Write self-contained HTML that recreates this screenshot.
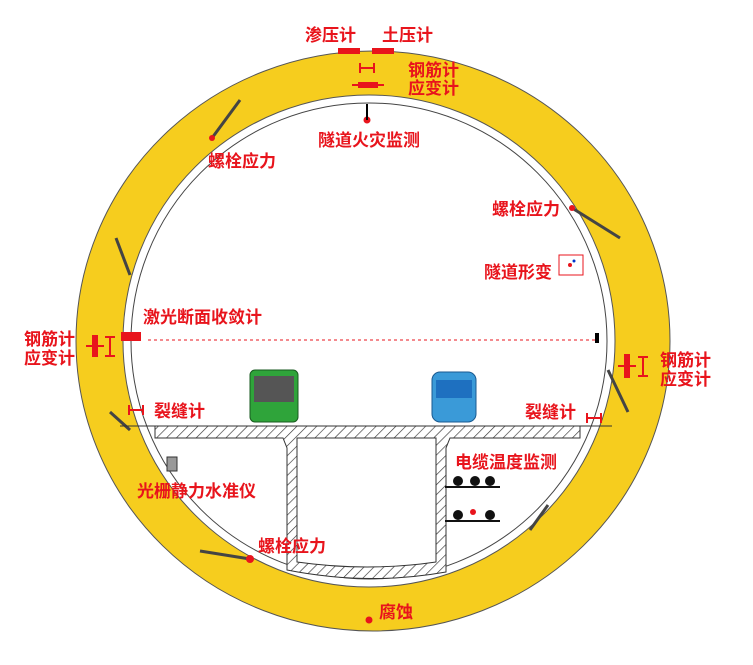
<!DOCTYPE html>
<html><head><meta charset="utf-8"><style>
body{margin:0;background:#fff}
svg text{font-family:"Liberation Sans","Noto Sans CJK SC",sans-serif;fill:#e8141c;font-size:17px;font-weight:bold}
</style></head><body>
<svg width="753" height="660" viewBox="0 0 753 660" xmlns="http://www.w3.org/2000/svg">
<defs>
<pattern id="h" width="7" height="7" patternUnits="userSpaceOnUse" patternTransform="rotate(45)">
<rect width="7" height="7" fill="#fff"/><line x1="0" y1="0" x2="0" y2="7" stroke="#333" stroke-width="1.3"/></pattern>
</defs>
<ellipse cx="373" cy="341" rx="297" ry="290" fill="#f6cd1e" stroke="#555" stroke-width="1"/>
<ellipse cx="369" cy="341" rx="246" ry="246" fill="#fff" stroke="#555" stroke-width="1"/>
<ellipse cx="369" cy="341" rx="238" ry="238" fill="none" stroke="#444" stroke-width="1"/>
<g stroke="#444" stroke-width="3" fill="none">
<line x1="212" y1="138" x2="240" y2="100"/>
<line x1="572" y1="208" x2="620" y2="238"/>
<line x1="130" y1="275" x2="116" y2="238"/>
<line x1="608" y1="370" x2="628" y2="412"/>
<line x1="130" y1="430" x2="110" y2="412"/>
<line x1="250" y1="559" x2="200" y2="551"/>
<line x1="530" y1="530" x2="548" y2="505"/>
</g>
<g fill="#e8141c">
<circle cx="212" cy="138" r="3"/><circle cx="572" cy="208" r="3"/><circle cx="250" cy="559" r="4"/>
<circle cx="367" cy="120" r="3.5"/><circle cx="369" cy="620" r="3.5"/>
<rect x="338" y="48" width="22" height="6"/><rect x="372" y="48" width="22" height="6"/>
<rect x="360" y="67" width="14" height="2"/><rect x="359" y="63" width="2" height="10"/><rect x="373" y="63" width="2" height="10"/>
<rect x="352" y="84" width="32" height="2"/><rect x="358" y="82" width="20" height="6"/>
<rect x="121" y="332" width="20" height="9"/>
<rect x="92" y="335" width="6" height="22"/><rect x="86" y="345" width="18" height="2"/>
<rect x="105" y="336" width="10" height="2"/><rect x="109" y="336" width="2" height="20"/><rect x="105" y="355" width="10" height="2"/>
<rect x="624" y="354" width="6" height="24"/><rect x="618" y="365" width="18" height="2"/>
<rect x="638" y="356" width="10" height="2"/><rect x="642" y="356" width="2" height="20"/><rect x="638" y="375" width="10" height="2"/>
<rect x="128" y="409" width="16" height="2"/><rect x="128" y="405" width="2" height="10"/><rect x="142" y="405" width="2" height="10"/>
<rect x="586" y="417" width="16" height="2"/><rect x="586" y="413" width="2" height="10"/><rect x="600" y="413" width="2" height="10"/>
</g>
<line x1="367" y1="104" x2="367" y2="120" stroke="#000" stroke-width="2"/>
<line x1="148" y1="340" x2="596" y2="340" stroke="#e8141c" stroke-dasharray="3,3" stroke-width="1"/>
<rect x="595" y="333" width="4" height="10" fill="#000"/>
<rect x="559" y="255" width="24" height="20" fill="#fff" stroke="#e8141c"/>
<circle cx="570" cy="265" r="2" fill="#e8141c"/><circle cx="574" cy="261" r="1.5" fill="#0033cc"/>
<path d="M155 426 H580 V438 H450 L446 448 V572 Q368 586 287 570 V448 L283 438 H155 Z" fill="url(#h)" stroke="#333"/>
<path d="M297 438 H436 V562 Q368 572 297 562 Z" fill="#fff" stroke="#333"/>
<line x1="155" y1="426" x2="120" y2="426" stroke="#333"/>
<line x1="580" y1="426" x2="612" y2="426" stroke="#333"/>
<rect x="167" y="457" width="10" height="14" fill="#999" stroke="#333"/>
<g fill="#111"><circle cx="458" cy="481" r="5"/><circle cx="475" cy="481" r="5"/><circle cx="490" cy="481" r="5"/>
<circle cx="458" cy="515" r="5"/><circle cx="490" cy="515" r="5"/></g>
<circle cx="473" cy="512" r="3" fill="#e8141c"/>
<line x1="445" y1="487" x2="500" y2="487" stroke="#111" stroke-width="2"/>
<line x1="445" y1="521" x2="500" y2="521" stroke="#111" stroke-width="2"/>
<rect x="250" y="370" width="48" height="52" rx="5" fill="#2fa43a" stroke="#1a5a20"/>
<rect x="254" y="376" width="40" height="26" fill="#555"/>
<rect x="432" y="372" width="44" height="50" rx="8" fill="#3a9ad8" stroke="#1a5a90"/>
<rect x="436" y="380" width="36" height="18" fill="#1e70c0"/>
<text x="305" y="41">渗压计</text><text x="382" y="41">土压计</text>
<text x="408" y="76">钢筋计</text><text x="408" y="94">应变计</text>
<text x="318" y="146">隧道火灾监测</text>
<text x="208" y="167">螺栓应力</text>
<text x="492" y="215">螺栓应力</text>
<text x="484" y="278">隧道形变</text>
<text x="143" y="323">激光断面收敛计</text>
<text x="24" y="345">钢筋计</text><text x="24" y="364">应变计</text>
<text x="660" y="366">钢筋计</text><text x="660" y="385">应变计</text>
<text x="154" y="417">裂缝计</text><text x="525" y="418">裂缝计</text>
<text x="455" y="468">电缆温度监测</text>
<text x="137" y="497">光栅静力水准仪</text>
<text x="258" y="552">螺栓应力</text>
<text x="379" y="618">腐蚀</text>
</svg>
</body></html>
